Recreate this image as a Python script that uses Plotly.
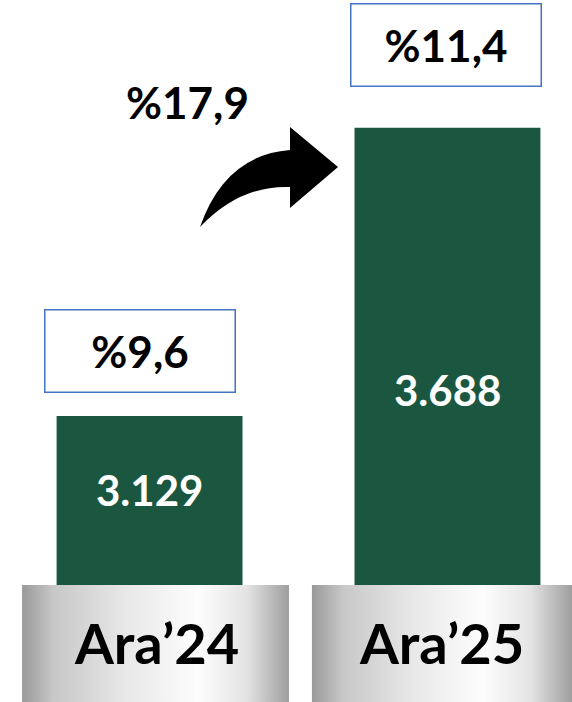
import plotly.graph_objects as go

# ---- data ----
categories = ["Ara’24", "Ara’25"]
values = [3129, 3688]          # bar values
shares = [9.6, 11.4]           # share labels (%)
growth = 17.9                  # growth label (%)
y_axis_min = 2801
y_axis_max = 3936

W, H = 572, 702
GREEN = "#1B5740"
FONT = "Lato"


def pct(v):
    return "%" + f"{v:.1f}".replace(".", ",")


def px_to_paper(x, y):
    return x / W, 1 - y / H


fig = go.Figure()

fig.add_trace(go.Bar(
    x=categories, y=values, marker=dict(color=GREEN, line=dict(width=0)),
    width=0.624, xaxis="x", yaxis="y", hoverinfo="x+y",
))

# gray gradient label plates (on a separate axis below the bars)
grad = [[0, "#999999"], [0.12, "#c8c8c8"], [0.4, "#e9e9e9"], [0.66, "#fdfdfd"],
        [0.84, "#e4e4e4"], [1, "#9e9e9e"]]
plates = [(-0.428, 0.468), (0.545, 1.418)]
for x0, x1 in plates:
    fig.add_trace(go.Scatter(
        x=[x0, x1, x1, x0, x0], y=[0, 0, 1, 1, 0], mode="lines",
        line=dict(width=0), fill="toself",
        fillgradient=dict(type="horizontal", colorscale=grad),
        xaxis="x2", yaxis="y2", hoverinfo="skip", showlegend=False,
    ))

annotations = []
# value labels inside bars
val_shift = [-74, -262]
for c, v, s in zip(categories, values, val_shift):
    annotations.append(dict(
        x=c, y=v, xref="x", yref="y", text=f"{v:,}".replace(",", "."),
        showarrow=False, xanchor="center", yanchor="middle", yshift=s,
        font=dict(family=FONT, size=42, color="white", weight="bold"),
    ))
# share boxes above bars
share_shift = [(-10, 65), (-1, 83)]
for c, v, sh, (xs, ys) in zip(categories, values, shares, share_shift):
    annotations.append(dict(
        x=c, y=v, xref="x", yref="y", text=pct(sh), showarrow=False,
        xanchor="center", yanchor="middle", xshift=xs, yshift=ys,
        width=189, height=81,
        bordercolor="#4472C4", borderwidth=1.5, borderpad=0, bgcolor="white",
        font=dict(family=FONT, size=44, color="black", weight="bold"),
    ))
# category labels on plates
cat_shift = [7, -6]
for c, xs in zip(categories, cat_shift):
    annotations.append(dict(
        x=c, y=(H - 642) / H, xref="x", yref="paper", text=c, showarrow=False,
        xshift=xs, xanchor="center", yanchor="middle",
        font=dict(family=FONT, size=56, color="black", weight="bold"),
    ))
# growth label
gx, gy = px_to_paper(187, 102)
annotations.append(dict(
    x=gx, y=gy, xref="paper", yref="paper", text=pct(growth), showarrow=False,
    xanchor="center", yanchor="middle",
    font=dict(family=FONT, size=44, color="black", weight="bold"),
))

# curved arrow
def P(x, y):
    a, b = px_to_paper(x, y)
    return f"{a:.5f},{b:.5f}"

arrow_path = (f"M {P(200,227)} Q {P(225,155)} {P(290,150)} L {P(290,127)} "
              f"L {P(338,167)} L {P(290,208)} L {P(290,187)} "
              f"Q {P(240,185)} {P(200,227)} Z")

fig.update_layout(
    width=W, height=H, margin=dict(l=0, r=0, t=0, b=0),
    paper_bgcolor="white", plot_bgcolor="rgba(0,0,0,0)",
    showlegend=False, bargap=0.376,
    xaxis=dict(type="category", range=[-0.502, 1.418], domain=[0, 1],
               showticklabels=False, showgrid=False, zeroline=False, showline=False,
               ticks="", anchor="y"),
    yaxis=dict(range=[y_axis_min, y_axis_max], domain=[117 / H, 1],
               showticklabels=False, showgrid=False, zeroline=False, showline=False,
               ticks="", anchor="x"),
    xaxis2=dict(range=[-0.502, 1.418], domain=[0, 1], showticklabels=False,
                showgrid=False, zeroline=False, showline=False, ticks="", anchor="y2"),
    yaxis2=dict(range=[0, 1], domain=[0, 117 / H], showticklabels=False,
                showgrid=False, zeroline=False, showline=False, ticks="", anchor="x2"),
    annotations=annotations,
    shapes=[dict(type="path", path=arrow_path, xref="paper", yref="paper",
                 fillcolor="black", line=dict(width=0))],
)

fig.write_html("out.html", config={"displayModeBar": False},
               post_script="document.body.style.margin='0';document.body.style.overflow='hidden';")
